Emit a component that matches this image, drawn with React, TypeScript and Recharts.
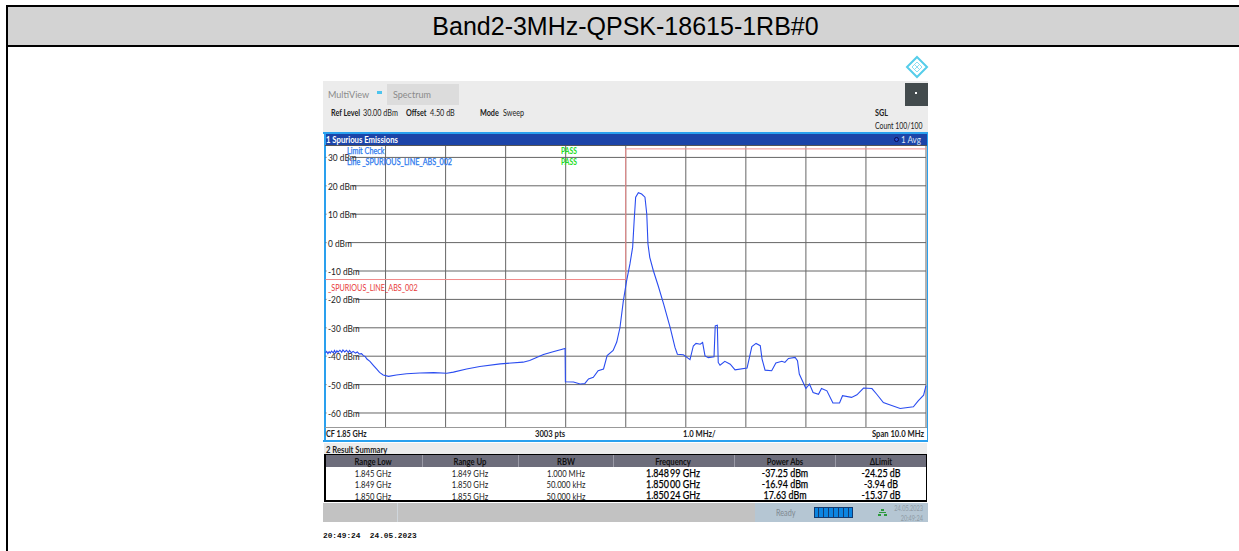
import { LineChart, Line, XAxis, YAxis, CartesianGrid } from 'recharts';

const traceFreq = [
  1845.0, 1845.02, 1845.04, 1845.06, 1845.08, 1845.1, 1845.13, 1845.15, 1845.17, 1845.19,
  1845.21, 1845.24, 1845.27, 1845.29, 1845.32, 1845.35, 1845.38, 1845.4, 1845.43, 1845.46,
  1845.5, 1845.53, 1845.56, 1845.6, 1845.63, 1845.66, 1845.69,
  1845.74, 1845.8, 1845.85, 1845.9, 1845.96, 1846.05, 1846.18, 1846.35, 1846.57, 1846.8, 1847.02, 1847.13, 1847.35, 1847.57, 1847.91,
  1848.29, 1848.4, 1848.63, 1848.79, 1848.99, 1848.995, 1849.13, 1849.24, 1849.32, 1849.38, 1849.46, 1849.54, 1849.63, 1849.69, 1849.79,
  1849.85, 1849.904, 1849.96, 1850.015, 1850.07, 1850.115, 1850.14, 1850.165, 1850.21, 1850.265, 1850.32, 1850.35, 1850.37, 1850.4, 1850.46,
  1850.54, 1850.63, 1850.74, 1850.82, 1850.86, 1850.96, 1851.07, 1851.125, 1851.17, 1851.24, 1851.28, 1851.32, 1851.375, 1851.47, 1851.49,
  1851.525, 1851.54, 1851.57, 1851.65, 1851.74, 1851.82, 1852.02, 1852.06, 1852.1, 1852.17, 1852.24, 1852.27, 1852.32, 1852.43, 1852.5,
  1852.6, 1852.65, 1852.71, 1852.82, 1852.86, 1852.89, 1853.0, 1853.06, 1853.12, 1853.21, 1853.26, 1853.35, 1853.45, 1853.56, 1853.61,
  1853.76, 1853.85, 1853.96, 1854.1, 1854.18, 1854.29, 1854.37, 1854.57, 1854.79, 1854.87, 1854.96, 1855.0,
];
const traceLevel = [
  -38.8, -38.3, -39.1, -38.4, -38.9, -38.2, -38.8, -38.0, -38.9, -38.1,
  -38.6, -37.9, -38.6, -37.8, -38.5, -37.9, -38.7, -38.0, -38.8, -38.3,
  -38.9, -38.5, -39.2, -39.1, -39.8, -40.1, -41.0,
  -41.8, -43.3, -44.5, -45.7, -46.6, -47.1, -46.6, -46.2, -45.9, -45.8, -46.0, -45.6, -44.5, -43.6, -42.7,
  -42.1, -41.5, -39.4, -38.4, -37.25, -49.0, -49.1, -49.8, -49.6, -48.0, -47.4, -45.1, -44.5, -39.8, -38.0,
  -35.0, -29.9, -20.5, -13.4, -7.5, -1.6, 7.8, 16.0, 17.6, 17.1, 16.0, 10.1, -0.5, -5.2, -9.9,
  -15.2, -21.6, -29.9, -36.9, -39.3, -39.5, -41.2, -36.4, -35.5, -35.8, -35.2, -39.9, -40.5, -40.2, -29.3,
  -29.1, -42.2, -43.2, -41.8, -42.8, -44.8, -44.2, -40.4, -36.6, -35.5, -36.3, -41.0, -44.9, -45.1, -42.4,
  -41.8, -42.2, -40.8, -40.4, -41.6, -46.3, -51.4, -49.8, -52.8, -53.4, -51.4, -52.2, -56.5, -56.5, -53.9,
  -54.5, -53.6, -51.2, -51.4, -53.4, -56.3, -56.9, -58.4, -57.8, -55.7, -53.7, -50.4,
];

const limitFreq = [1845, 1850, 1850, 1855];
const limitLevel = [-13, -13, 33, 33];

const freqTicks = [1845, 1846, 1847, 1848, 1849, 1850, 1851, 1852, 1853, 1854, 1855];
const levelTicks = [30, 20, 10, 0, -10, -20, -30, -40, -50, -60];

const tableHead = ['Range Low', 'Range Up', 'RBW', 'Frequency', 'Power Abs', 'ΔLimit'];
const rangeLow = ['1.845 GHz', '1.849 GHz', '1.850 GHz'];
const rangeUp = ['1.849 GHz', '1.850 GHz', '1.855 GHz'];
const rbw = ['1.000 MHz', '50.000 kHz', '50.000 kHz'];
const peakFreq = ['1.848\u200999 GHz', '1.850\u200900 GHz', '1.850\u200924 GHz'];
const powerAbs = ['-37.25 dBm', '-16.94 dBm', '17.63 dBm'];
const deltaLimit = ['-24.25 dB', '-3.94 dB', '-15.37 dB'];

const traceData = traceFreq.map((freq, i) => ({ freq, level: traceLevel[i] }));
const limitData = limitFreq.map((freq, i) => ({ freq, level: limitLevel[i] }));

const UI_FONT = 'Lato, "Noto Sans", sans-serif';

function Box({ x, y, w, h, bg }: { x: number; y: number; w: number; h: number; bg: string }) {
  return <div style={{ position: 'absolute', left: x, top: y, width: w, height: h, background: bg }} />;
}

// the instrument font is narrower than anything installed, so squeeze it
function Label({ x, y, size = 8.5, bold = false, color = '#222', anchor = 'start', squeeze = 0.85, heavy = false, children }: any) {
  const shift = anchor === 'middle' ? '-50%' : anchor === 'end' ? '-100%' : '0';
  const origin = anchor === 'middle' ? 'center' : anchor === 'end' ? 'right' : 'left';
  return (
    <div
      style={{
        position: 'absolute',
        left: x,
        top: y,
        transform: `translate(${shift}, -50%) scaleX(${squeeze})`,
        transformOrigin: origin,
        fontFamily: UI_FONT,
        fontSize: size,
        fontWeight: bold ? 700 : 400,
        WebkitTextStroke: heavy ? '0.25px currentColor' : undefined,
        color,
        lineHeight: 1,
        whiteSpace: 'nowrap',
      }}
    >
      {children}
    </div>
  );
}

function LevelTick({ y, payload }: any) {
  const text = `${payload.value} dBm`;
  return (
    <g>
      {/* gridline stops where the label ends */}
      <rect x={1.5} y={y - 1} width={text.length * 3.9 + 2} height={2} fill="#fff" />
      <text transform={`translate(3,${y + 4}) scale(0.88,1)`} fontFamily={UI_FONT} fontSize={9.5} fill="#222">
        {text}
      </text>
    </g>
  );
}

function Logo() {
  return (
    <svg style={{ position: 'absolute', left: 905, top: 55 }} width={24} height={24} viewBox="0 0 24 24">
      <polygon points="12,2 22,12 12,22 2,12" fill="#fff" stroke="#55cdea" strokeWidth={2} />
      <path d="M7 12 L12 7 L17 12 L12 17 Z M9.5 9.5 L14.5 14.5 M14.5 9.5 L9.5 14.5" fill="none" stroke="#7fdaf0" strokeWidth={0.9} />
    </svg>
  );
}

function SummaryTable() {
  const centers = [373, 470, 566, 673, 785, 881];
  const columns = [rangeLow, rangeUp, rbw, peakFreq, powerAbs, deltaLimit];
  const smallRowY = [473, 484, 495.5];
  const bigRowY = [472.5, 483.5, 494.5];
  return (
    <>
      <Box x={324} y={454} w={603} h={48} bg="#000" />
      <Box x={326} y={455} w={600} h={12} bg="#6d6d7b" />
      <Box x={326} y={467} w={600} h={33} bg="#fff" />
      {[422, 518, 613, 734, 835].map((x) => (
        <Box key={x} x={x} y={455} w={1} h={12} bg="#9a9aa6" />
      ))}
      {tableHead.map((head, c) => (
        <Label key={head} x={centers[c]} y={461.5} anchor="middle" bold size={8.5} color="#111" squeeze={0.9}>
          {head}
        </Label>
      ))}
      {columns.map((col, c) =>
        col.map((cell, r) => (
          <Label
            key={cell + c + r}
            x={centers[c]}
            y={c > 2 ? bigRowY[r] : smallRowY[r]}
            anchor="middle"
            size={c > 2 ? 10.5 : 9}
            heavy={c > 2}
            color={c > 2 ? '#000' : '#222'}
          >
            {cell}
          </Label>
        )),
      )}
    </>
  );
}

const batterySegments = [818, 823, 828, 833, 838, 843, 848];

export default function App() {
  return (
    <div style={{ position: 'absolute', left: 0, top: 0, width: 1239, height: 551, background: '#fff', overflow: 'hidden' }}>
      <Box x={6} y={5} w={1233} h={42} bg="#000" />
      <Box x={8} y={7} w={1231} h={38} bg="#d3d3d3" />
      <Box x={6} y={47} w={2} h={504} bg="#000" />
      <div
        style={{
          position: 'absolute',
          left: 8,
          top: 7,
          width: 1235,
          height: 38,
          lineHeight: '38px',
          textAlign: 'center',
          fontFamily: '"Liberation Sans", Arial, sans-serif',
          fontSize: 25,
          color: '#000',
        }}
      >
        Band2-3MHz-QPSK-18615-1RB#0
      </div>

      <Logo />

      {/* instrument top bar */}
      <Box x={323} y={81} w={605} h={51} bg="#ececec" />
      <Box x={387} y={84} w={72} h={21} bg="#dcdcdc" />
      <Box x={905} y={83} w={23} h={23} bg="#434b4d" />
      <Box x={915} y={92} w={2} h={2} bg="#fff" />
      <Box x={377} y={91} w={5} h={3} bg="#4cc4ee" />
      <Label x={328} y={94.5} size={9.5} color="#8a8a8a" squeeze={0.95}>MultiView</Label>
      <Label x={393} y={94.5} size={9.5} color="#8a8a8a" squeeze={0.95}>Spectrum</Label>
      <Label x={331} y={112.5} bold>Ref Level</Label>
      <Label x={363} y={113}>30.00 dBm</Label>
      <Label x={406} y={112.5} bold>Offset</Label>
      <Label x={430} y={113}>4.50 dB</Label>
      <Label x={480} y={112.5} bold>Mode</Label>
      <Label x={503} y={113}>Sweep</Label>
      <Label x={875} y={112.5} bold>SGL</Label>
      <Label x={875} y={126} squeeze={0.81}>Count 100/100</Label>

      {/* window 1 */}
      <Box x={323} y={132} w={605} h={2} bg="#2aa0ee" />
      <Box x={325} y={134} w={602} h={11} bg="#1c44a8" />
      <Label x={326} y={139.5} bold color="#fff" squeeze={0.91}>1 Spurious Emissions</Label>
      <Label x={901} y={140} size={9.5} color="#dfe6f6">1 Avg</Label>
      <div style={{ position: 'absolute', left: 894, top: 137, width: 3, height: 3, borderRadius: 3, border: '1px solid #0a0a50', background: '#2a50d0' }} />
      <Box x={324} y={132} w={1.5} h={310} bg="#2aa0ee" />
      <Box x={926.5} y={132} w={1.5} h={310} bg="#2aa0ee" />

      <div style={{ position: 'absolute', left: 325, top: 145 }}>
        <LineChart width={602} height={282} margin={{ top: 0, right: 1, bottom: 0, left: 0.5 }}>
          <CartesianGrid stroke="#666" horizontalValues={levelTicks} verticalValues={freqTicks} />
          <XAxis type="number" dataKey="freq" domain={[1845, 1855]} ticks={freqTicks} hide allowDuplicatedCategory={false} />
          <YAxis
            type="number"
            dataKey="level"
            domain={[-64.93, 34.37]}
            ticks={levelTicks}
            mirror
            axisLine={false}
            tickLine={false}
            allowDataOverflow
            interval={0}
            tick={LevelTick}
          />
          <Line data={limitData} dataKey="level" type="linear" stroke="#f08a8a" strokeWidth={1} dot={false} isAnimationActive={false} />
          <Line data={traceData} dataKey="level" type="linear" stroke="#2a4cf0" strokeWidth={1.1} dot={false} isAnimationActive={false} />
        </LineChart>
      </div>
      <Box x={325} y={145} w={602} h={1} bg="#555" />
      <Box x={325} y={427} w={602} h={1} bg="#999" />

      <Label x={347} y={151} color="#2a78ee" heavy>Limit Check</Label>
      <Label x={347} y={162} color="#2a78ee" heavy>Line _SPURIOUS_LINE_ABS_002</Label>
      <Label x={561} y={151} color="#22dd22" squeeze={0.8} bold>PASS</Label>
      <Label x={561} y={162} color="#22dd22" squeeze={0.8} bold>PASS</Label>
      <Label x={328} y={286.5} size={9} color="#e83a3a" squeeze={0.8}>_SPURIOUS_LINE_ABS_002</Label>

      <Label x={326} y={434} bold>CF 1.85 GHz</Label>
      <Label x={535} y={434} bold squeeze={0.9}>3003 pts</Label>
      <Label x={683} y={434} bold squeeze={0.9}>1.0 MHz/</Label>
      <Label x={924} y={434} anchor="end" bold squeeze={0.9}>Span 10.0 MHz</Label>
      <Box x={323} y={440} w={605} h={2} bg="#2aa0ee" />

      {/* window 2 */}
      <Box x={324} y={443} w={603} h={11} bg="#ececec" />
      <Label x={326} y={449.5} bold squeeze={0.9}>2 Result Summary</Label>
      <SummaryTable />

      {/* status bar */}
      <Box x={323} y={503} w={432} h={19} bg="#c2c2c2" />
      <Box x={755} y={503} w={173} h={19} bg="#b5c6d3" />
      <Box x={397} y={503} w={1} h={19} bg="#cfd6dc" />
      <Label x={776} y={513} color="#7e8890">Ready</Label>
      <Box x={814} y={507} w={39} h={11} bg="#0a84e0" />
      <div style={{ position: 'absolute', left: 814, top: 507, width: 37, height: 9, border: '1px solid #123a70' }} />
      {batterySegments.map((x) => (
        <Box key={x} x={x} y={508} w={1} h={9} bg="#123a70" />
      ))}
      <Box x={881} y={509} w={3} h={2} bg="#2c9a3c" />
      <Box x={879} y={512} w={7} h={1} bg="#2c9a3c" />
      <Box x={878} y={514} w={3} h={2} bg="#2c9a3c" />
      <Box x={884} y={514} w={3} h={2} bg="#2c9a3c" />
      <Label x={923} y={508} anchor="end" size={7} color="#8e9aa4" squeeze={0.8}>24.05.2023</Label>
      <Label x={923} y={518} anchor="end" size={7} color="#8e9aa4" squeeze={0.8}>20:49:24</Label>

      <div
        style={{
          position: 'absolute',
          left: 323,
          top: 531,
          fontFamily: '"Liberation Mono", monospace',
          fontSize: 7.8,
          fontWeight: 700,
          lineHeight: '10px',
          whiteSpace: 'pre',
          color: '#111',
        }}
      >
        20:49:24  24.05.2023
      </div>
    </div>
  );
}
